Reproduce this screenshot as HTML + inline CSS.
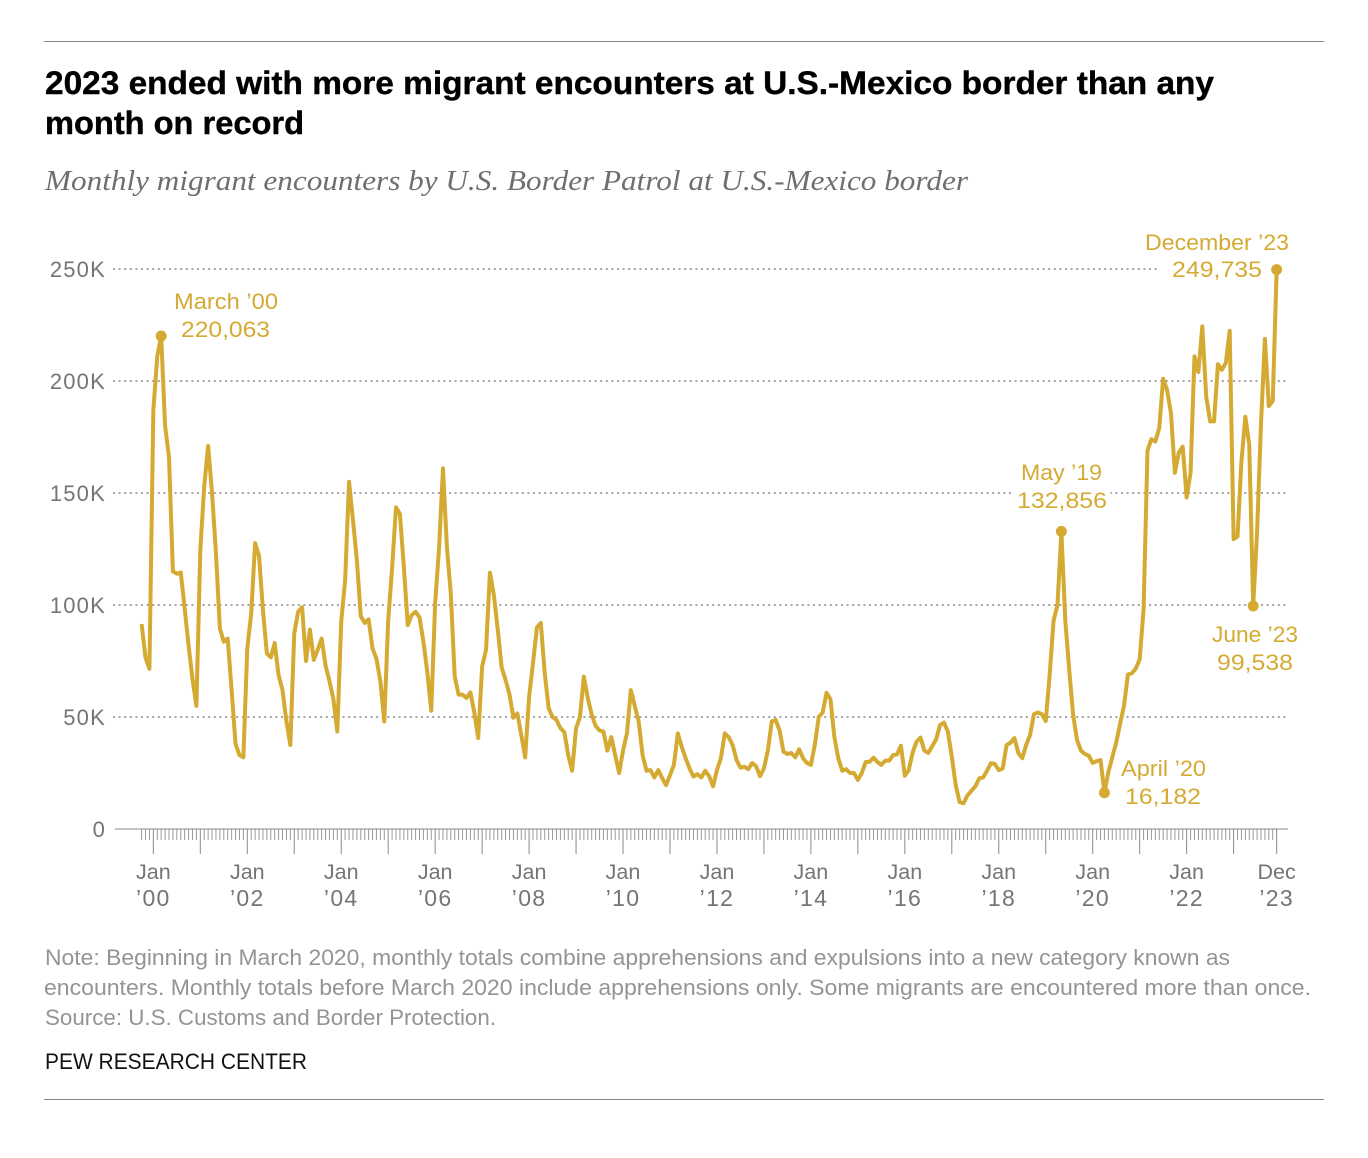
<!DOCTYPE html>
<html lang="en">
<head>
<meta charset="utf-8">
<title>2023 ended with more migrant encounters at U.S.-Mexico border than any month on record</title>
<style>
  html, body { margin: 0; padding: 0; background: #fff; }
  svg { display: block; }
  text { font-family: "Liberation Sans", sans-serif; }
  .title { font-size: 32px; font-weight: bold; fill: #000; stroke: #000; stroke-width: 0.4px; }
  .subtitle { font-family: "Liberation Serif", serif; font-style: italic; font-size: 28.5px; fill: #6f6f6f; }
  .note { font-size: 22px; fill: #949494; }
  .credit { font-size: 22px; fill: #111; }
  .axis-label { font-size: 21.5px; fill: #757575; }
  .y-label { font-size: 22px; fill: #757575; letter-spacing: 1.2px; }
  .year-label { font-size: 23px; fill: #757575; letter-spacing: 1.3px; }
  .anno { font-size: 22px; fill: #d4aa32; }
  .halo { paint-order: stroke; stroke: #fff; stroke-width: 10px; stroke-linejoin: round; }
</style>
</head>
<body>
<svg id="chart" xmlns="http://www.w3.org/2000/svg" width="1368" height="1158" viewBox="0 0 1368 1158">
  <rect x="0" y="0" width="1368" height="1158" fill="#fff"/>
  <line x1="44" x2="1324" y1="41.5" y2="41.5" stroke="#858585" stroke-width="1"/>
  <text class="title" x="45" y="94" textLength="1169" lengthAdjust="spacingAndGlyphs">2023 ended with more migrant encounters at U.S.-Mexico border than any</text>
  <text class="title" x="45" y="134" textLength="259" lengthAdjust="spacingAndGlyphs">month on record</text>
  <text class="subtitle" x="45" y="190" textLength="923" lengthAdjust="spacingAndGlyphs">Monthly migrant encounters by U.S. Border Patrol at U.S.-Mexico border</text>

  <g id="grid"></g>
  <g id="yLabels"></g>
  <g id="xAxis"></g>
  <g id="annoText">
    <text class="anno halo" x="174" y="309" textLength="104" lengthAdjust="spacingAndGlyphs">March ’00</text>
    <text class="anno halo" x="181" y="337" textLength="89" lengthAdjust="spacingAndGlyphs">220,063</text>
    <text class="anno halo" x="1145" y="250" textLength="144" lengthAdjust="spacingAndGlyphs">December ’23</text>
    <text class="anno halo" x="1172" y="277" textLength="90" lengthAdjust="spacingAndGlyphs">249,735</text>
    <text class="anno halo" x="1021" y="480" textLength="81" lengthAdjust="spacingAndGlyphs">May ’19</text>
    <text class="anno halo" x="1017" y="508" textLength="90" lengthAdjust="spacingAndGlyphs">132,856</text>
    <text class="anno halo" x="1212" y="642" textLength="86" lengthAdjust="spacingAndGlyphs">June ’23</text>
    <text class="anno halo" x="1217" y="670" textLength="76" lengthAdjust="spacingAndGlyphs">99,538</text>
    <text class="anno halo" x="1121" y="776" textLength="85" lengthAdjust="spacingAndGlyphs">April ’20</text>
    <text class="anno halo" x="1125" y="804" textLength="76" lengthAdjust="spacingAndGlyphs">16,182</text>
  </g>
  <g id="series"></g>

  <text class="note" x="45" y="965" textLength="1185" lengthAdjust="spacingAndGlyphs">Note: Beginning in March 2020, monthly totals combine apprehensions and expulsions into a new category known as</text>
  <text class="note" x="44" y="995" textLength="1267" lengthAdjust="spacingAndGlyphs">encounters. Monthly totals before March 2020 include apprehensions only. Some migrants are encountered more than once.</text>
  <text class="note" x="45" y="1025" textLength="451" lengthAdjust="spacingAndGlyphs">Source: U.S. Customs and Border Protection.</text>
  <text class="credit" x="45" y="1069" textLength="262" lengthAdjust="spacingAndGlyphs">PEW RESEARCH CENTER</text>
  <line x1="44" x2="1324" y1="1099.5" y2="1099.5" stroke="#858585" stroke-width="1"/>
</svg>
<script>
// Monthly encounters in thousands, October 1999 through December 2023
const encounters = [
  91.5, 76.5, 71.5, 187, 211, 220.063, 180, 166, 115, 114, 114.5, 98.5,
  82, 67, 55, 124.5, 153, 171, 150, 123, 89.5, 83.6, 85, 62,
  38, 33, 32, 80.6, 96, 127.6, 122, 97.8, 78.4, 76.6, 83, 68.7,
  62, 48, 37.5, 87.5, 97, 99, 75, 89, 75.5, 80, 85, 73,
  66, 58, 43.5, 92.5, 111, 155, 138, 120, 95, 92, 93.6, 80.6,
  76, 66, 48, 93, 116.5, 143.6, 140.6, 117, 91, 95.5, 97, 94.5,
  83.6, 70, 52.8, 100.8, 125.4, 161, 126, 105, 68, 60, 60, 58.5,
  61, 52, 40.6, 72.5, 80, 114.4, 104.5, 89, 72, 66.5, 60, 49.7,
  51.6, 42, 32, 59, 74, 90, 92, 69.5, 54, 50, 48.7, 45,
  43.3, 33, 26, 45, 50, 68, 58.5, 51, 46, 44, 43.5, 35,
  41, 33, 25, 35, 42.7, 62, 55, 48, 33, 26, 26.3, 23,
  26.3, 22.7, 19.6, 24, 28.6, 42.7, 36.7, 31.6, 27, 23.4, 24.5, 23,
  26, 23.6, 19, 26.3, 31.6, 42.7, 41, 37.5, 30.8, 27.4, 27.8, 26.7,
  29.5, 28, 23.6, 27, 35, 48, 48.7, 44, 34.5, 33.5, 33.9, 32,
  35.6, 31.6, 29.5, 28.6, 37.5, 50, 52, 60.8, 58, 41, 31.6, 26,
  26.7, 25, 25, 21.9, 25, 29.9, 30, 31.8, 29.9, 28.6, 30.5, 30.5,
  33, 33.3, 37.2, 23.8, 26.3, 34.2, 39, 40.8, 35, 34, 37, 40,
  46.4, 47.5, 43.4, 32.3, 19.6, 12, 11.5, 15, 17, 19, 22.6, 23,
  26, 29.4, 29, 26.3, 27, 37.5, 38.5, 40.6, 33.9, 31.6, 37.5, 42,
  51.3, 52, 51.3, 48.2, 68.7, 93, 100, 132.856, 93, 71, 51, 39.7,
  35, 33.5, 32.7, 29.5, 30.3, 30.8, 16.182, 25.4, 32, 38.6, 47, 55,
  69, 69.5, 71.6, 75.8, 98, 169, 174, 173, 179, 201, 196, 185.5,
  159, 168, 170.7, 148, 159, 211, 204, 224.4, 193, 182, 182, 207.5,
  205, 208, 222.4, 129.4, 130.6, 164, 184, 171.6, 99.538, 132.6, 181, 218.8,
  188.8, 191.1, 249.735
];
// Annotated months: position of each dot inside the encounters array
const highlightNames = ['march-2000', 'may-2019', 'april-2020', 'june-2023', 'december-2023'];
const highlightMonths = [5, 235, 246, 284, 290];
// Axis content
const yTicks = [0, 50, 100, 150, 200, 250];
const yTickLabels = ['0', '50K', '100K', '150K', '200K', '250K'];
const xTickYears = ['00', '02', '04', '06', '08', '10', '12', '14', '16', '18', '20', '22'];
const xTickYearNumbers = [0, 2, 4, 6, 8, 10, 12, 14, 16, 18, 20, 22];

const NS = 'http://www.w3.org/2000/svg';
function xScale(month) { return 141.6 + 3.914 * month; }
function yScale(v) { return 829 - 2.24 * v; }
function janMonth(year) { return year * 12 + 3; }
function make(tag, attrs, parent) {
  const el = document.createElementNS(NS, tag);
  for (const k in attrs) el.setAttribute(k, attrs[k]);
  parent.appendChild(el);
  return el;
}

const grid = document.getElementById('grid');
const yLabels = document.getElementById('yLabels');
const xAxis = document.getElementById('xAxis');
const series = document.getElementById('series');

yTicks.forEach(function (v, i) {
  if (v > 0) {
    const gl = make('line', {
      x1: 113, x2: v === 250 ? 1160 : 1288,
      y1: yScale(v), y2: yScale(v),
      stroke: '#a3a3a3', 'stroke-width': 2, 'stroke-dasharray': '2 3.6'
    }, grid);
    
    
  }
  const t = make('text', {
    x: 106, y: yScale(v) + 8, 'text-anchor': 'end', 'class': 'y-label'
  }, yLabels);
  
  
  t.textContent = yTickLabels[i];
});

const baseline = make('line', { x1: 115, x2: 1288, y1: 829, y2: 829, stroke: '#b0b0b0', 'stroke-width': 1.5 }, xAxis);



encounters.forEach(function (_, m) {
  const major = (m % 12 === 3) || m === encounters.length - 1;
  const tick = make('line', {
    x1: xScale(m), x2: xScale(m), y1: 829, y2: major ? 854 : 840,
    stroke: major ? '#8a8a8a' : '#989898', 'stroke-width': 1
  }, xAxis);
  
  
});

function xLabel(month, top, bottom) {
  const a = make('text', { x: xScale(month), y: 879, 'text-anchor': 'middle', 'class': 'axis-label' }, xAxis);
  
  
  a.textContent = top;
  const b = make('text', { x: xScale(month), y: 906, 'text-anchor': 'middle', 'class': 'year-label' }, xAxis);
  
  
  b.textContent = bottom;
}
xTickYears.forEach(function (label, i) {
  xLabel(janMonth(xTickYearNumbers[i]), 'Jan', '’' + label);
});
xLabel(encounters.length - 1, 'Dec', '’23');

const points = encounters.map(function (v, m) {
  return xScale(m).toFixed(2) + ',' + yScale(v).toFixed(2);
}).join(' ');
const line = make('polyline', {
  points: points, fill: 'none', stroke: '#d4aa32', 'stroke-width': 4,
  'stroke-linejoin': 'round', 'stroke-linecap': 'butt'
}, series);



highlightMonths.forEach(function (m, i) {
  const dot = make('circle', { cx: xScale(m), cy: yScale(encounters[m]), r: 5.5, fill: '#d4aa32' }, series);
  
  
});
</script>
</body>
</html>
